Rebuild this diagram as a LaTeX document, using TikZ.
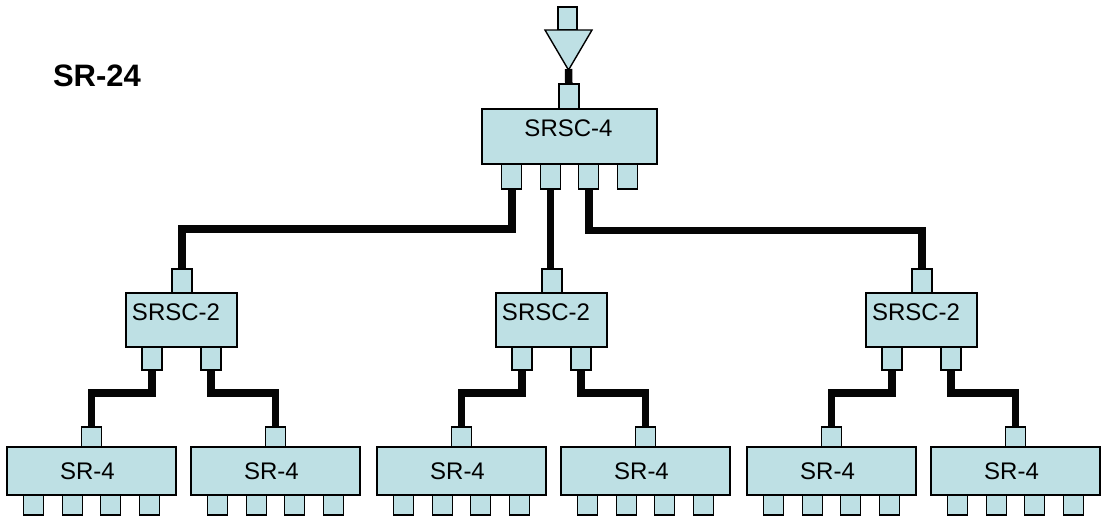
\documentclass[tikz,border=0pt]{standalone}
\usepackage{fontspec}
\setmainfont{Liberation Sans}
\usetikzlibrary{calc,backgrounds}
\definecolor{boxfill}{RGB}{190,224,228}
\definecolor{wire}{RGB}{5,5,5}
\tikzset{
  unit/.style={draw=black, fill=boxfill, line width=1.4pt, inner sep=0pt, outer sep=0pt},
  port/.style={unit, minimum width=20pt, minimum height=#1},
  port/.default=20pt,
  lbl/.style={font=\fontsize{24}{28}\selectfont, inner sep=0pt, anchor=center},
  cable/.style={draw=wire, line width=7.5pt, line join=miter, line cap=butt},
}
\begin{document}
\begin{tikzpicture}[x=1pt,y=-1pt]
\useasboundingbox (0,0) rectangle (1102,520);
% title
\node[font=\fontsize{31}{36}\selectfont\bfseries, inner sep=0pt] (title) at (97,76) {SR-24};
% input
\node[port=23pt, minimum width=19pt] (inp) at (567.5,18.5) {};
\filldraw[draw=black, fill=boxfill, line width=1.4pt, line join=miter] (545,30) -- (592,30) -- (568.5,70) -- cycle;
\coordinate (apex) at (568.5,69);
% SRSC-4
\node[unit, minimum width=175pt, minimum height=55pt] (s4) at (569.5,136.5) {};
\node[lbl] (s4t) at (568.5,128) {SRSC-4};
\node[port=25pt] (s4in) at (569,96.5) {};
\foreach \k/\o in {1/-57.75,2/-19.25,3/19.25,4/57.75}
  \node[port=25pt] (s4p\k) at (569.5+\o,176.5) {};
% groups
\foreach \g in {0,1,2}{
  \pgfmathsetmacro{\cx}{181.5+370*\g}
  \node[unit, minimum width=111pt, minimum height=54pt] (s2\g) at (\cx,320) {};
  \node[lbl] (s2t\g) at (\cx-5.5,312.5) {SRSC-2};
  \node[port=24pt] (s2in\g) at (\cx+0.5,281) {};
  \node[port=23pt] (s2a\g) at (\cx-29.5,358.5) {};
  \node[port=23pt] (s2b\g) at (\cx+29.5,358.5) {};
  \foreach \side/\dx in {a/-90,b/94}{
    \pgfmathsetmacro{\bx}{\cx+\dx}
    \node[unit, minimum width=169pt, minimum height=48pt] (r\side\g) at (\bx,471) {};
    \node[lbl] (rt\side\g) at (\bx-4,471.5) {SR-4};
    \node[port] (rin\side\g) at (\bx,437) {};
    \foreach \k/\o in {1/-57.75,2/-19.25,3/19.25,4/57.75}
      \node[port] (rp\side\g\k) at (\bx+\o,505) {};
  }
  \begin{scope}[on background layer]
    \draw[cable] (s2a\g.center) |- ($(s2a\g.south)!0.4!(rina\g.north)$) -| (rina\g.center);
    \draw[cable] (s2b\g.center) |- ($(s2b\g.south)!0.4!(rinb\g.north)$) -| (rinb\g.center);
  \end{scope}
}
\begin{scope}[on background layer]
  \draw[cable] (apex) -- (s4in.center);
  \draw[cable] (s4p1.center) |- ($(s4p1.south)!0.5!(s2in0.north)$) -| (s2in0.center);
  \draw[cable] (s4p2.center) -- (s4p2.center |- s2in1.center);
  \draw[cable] (s4p3.center) |- ($(s4p3.south)!0.52!(s2in2.north)$) -| (s2in2.center);
\end{scope}
\end{tikzpicture}
\end{document}
